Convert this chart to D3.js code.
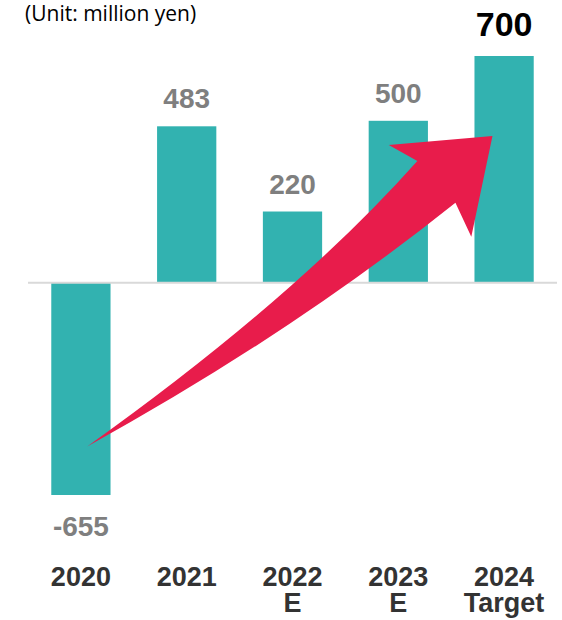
<!DOCTYPE html>
<html>
<head>
<meta charset="utf-8">
<script src="https://cdn.jsdelivr.net/npm/d3@7"></script>
<style>
  html, body { margin: 0; padding: 0; background: #fff; }
  svg { display: block; }
</style>
</head>
<body>
<svg id="chart" width="562" height="620"></svg>
<script>
// Operating profit by fiscal year (million yen)
const categories = ["2020", "2021", "2022\nE", "2023\nE", "2024\nTarget"];
const values = [-655, 483, 220, 500, 700];
const highlight = [false, false, false, false, true];
const unitLabel = "(Unit: million yen)";

// Growth arrow outline, in chart units: [category position, value]
const arrowTail = [0.06, -505];
const arrowUpperCtrl = [2.03, -46];
const arrowUpperNeck = [3.18, 376];
const arrowLeftBarb = [2.91, 425];
const arrowTip = [3.89, 453];
const arrowRightBarb = [3.69, 142];
const arrowLowerNeck = [3.54, 247];
const arrowLowerCtrl = [1.98, -160];

const svg = d3.select("#chart");

const x = d3.scaleBand()
  .domain(categories)
  .range([28, 557])
  .paddingInner(0.44)
  .paddingOuter(0.22);

const y = d3.scaleLinear()
  .domain([-655, 700])
  .range([495, 56]);

// category position -> pixel x (0 = centre of first band)
const px = i => x(categories[0]) + x.bandwidth() / 2 + i * x.step();
const pt = p => [px(p[0]), y(p[1])];

// bars
svg.append("g").selectAll("rect")
  .data(values)
  .join("rect")
  .attr("x", (d, i) => x(categories[i]))
  .attr("width", x.bandwidth())
  .attr("y", d => y(Math.max(0, d)))
  .attr("height", d => Math.abs(y(d) - y(0)))
  .attr("fill", "#32B2B0");

// zero line
svg.append("line")
  .attr("x1", x.range()[0])
  .attr("x2", x.range()[1])
  .attr("y1", y(0))
  .attr("y2", y(0))
  .attr("stroke", "#d9d9d9")
  .attr("stroke-width", 2);

// growth arrow
const [t0, uc, un, lb, tp, rb, ln, lc] =
  [arrowTail, arrowUpperCtrl, arrowUpperNeck, arrowLeftBarb, arrowTip,
   arrowRightBarb, arrowLowerNeck, arrowLowerCtrl].map(pt);
const arrow = d3.path();
arrow.moveTo(...t0);
arrow.quadraticCurveTo(...uc, ...un);
arrow.lineTo(...lb);
arrow.lineTo(...tp);
arrow.lineTo(...rb);
arrow.lineTo(...ln);
arrow.quadraticCurveTo(...lc, ...t0);
arrow.closePath();
svg.append("path")
  .attr("d", arrow.toString())
  .attr("fill", "#E81C4B");

// value labels
svg.append("g").selectAll("text")
  .data(values)
  .join("text")
  .attr("x", (d, i) => x(categories[i]) + x.bandwidth() / 2)
  .attr("y", (d, i) => d < 0 ? y(d) + 41 : y(d) - (highlight[i] ? 20 : 18))
  .attr("text-anchor", "middle")
  .attr("font-family", "'Liberation Sans', Arial, sans-serif")
  .attr("font-weight", "bold")
  .attr("font-size", (d, i) => highlight[i] ? 34 : 28)
  .attr("fill", (d, i) => highlight[i] ? "#000" : "#7f7f7f")
  .text(d => d);

// category labels
const cat = svg.append("g").selectAll("text")
  .data(categories)
  .join("text")
  .attr("x", d => x(d) + x.bandwidth() / 2)
  .attr("y", 586)
  .attr("text-anchor", "middle")
  .attr("font-family", "'Liberation Sans', Arial, sans-serif")
  .attr("font-weight", "bold")
  .attr("font-size", 27)
  .attr("fill", "#333");
cat.selectAll("tspan")
  .data(d => d.split("\n").map(s => ({ s, cx: x(d) + x.bandwidth() / 2 })))
  .join("tspan")
  .attr("x", d => d.cx)
  .attr("dy", (d, i) => i === 0 ? 0 : 26)
  .text(d => d.s);

// unit note
svg.append("text")
  .attr("x", 25)
  .attr("y", 21)
  .attr("font-family", "'Open Sans', 'Noto Sans', sans-serif")
  .attr("font-size", 21)
  .attr("fill", "#000")
  .text(unitLabel);
</script>
</body>
</html>
